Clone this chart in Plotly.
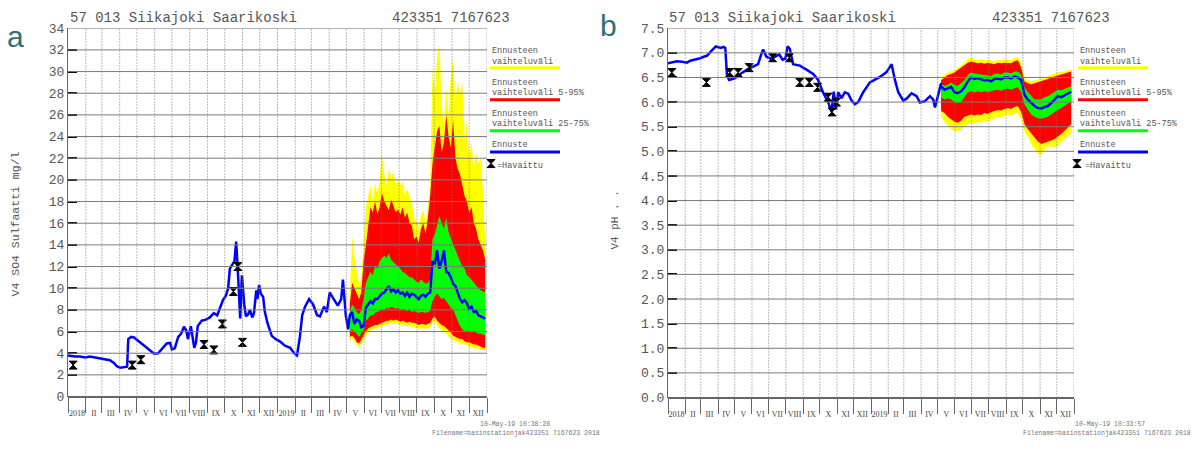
import pandas as pd
import plotly.graph_objects as go

W, H = 1200, 450
START = pd.Timestamp("2018-01-01")

# ---------------- Sulfate (SO4, mg/l) ----------------
# simulated history: days since 2018-01-01 and value
so4_hist_day = [0, 12, 21, 30, 38, 47, 56, 64, 73, 80, 85, 91, 98, 103, 105, 110, 115, 125, 136, 143,
                150, 157, 165, 172, 178, 181, 186, 192, 197, 202, 206, 209, 214, 218, 220, 223, 226, 233,
                240, 247, 254, 260, 265, 270, 275, 279, 282, 286, 290, 293, 294, 296, 300, 303, 307, 310,
                314, 317, 321, 324, 328, 330, 333, 336, 340, 343, 348, 355, 362, 369, 378, 387, 394, 399,
                404, 408, 413, 420, 427, 434, 439, 446, 451, 456, 463, 470, 476, 479, 484, 488]
so4_hist_val = [3.8, 3.7, 3.7, 3.6, 3.7, 3.6, 3.5, 3.45, 3.35, 3.1, 2.8, 2.65, 2.75, 2.75, 5.3, 5.5, 5.45,
                5.0, 4.5, 4.2, 3.95, 4.0, 4.5, 4.9, 4.95, 4.35, 4.45, 5.5, 5.8, 6.45, 6.1, 5.3, 6.5, 5.2,
                4.5, 5.0, 6.5, 7.0, 7.1, 7.3, 7.7, 7.5, 8.2, 8.9, 9.3, 10.0, 11.8, 12.2, 12.5, 14.3, 13.0,
                11.5, 7.2, 11.2, 8.5, 7.4, 7.6, 8.0, 7.3, 7.7, 9.8, 9.0, 10.3, 9.5, 9.2, 7.8, 6.7, 5.6,
                5.3, 5.1, 4.7, 4.5, 4.0, 3.8, 5.5, 7.5, 8.3, 9.0, 8.5, 7.5, 7.4, 8.3, 7.8, 9.6, 9.0, 8.4,
                9.0, 10.8, 7.5, 6.2]

# forecast (every 4 days from 2019-05-07)
so4_fc_start, so4_fc_step = "2019-05-07", "4D"
so4_median = [7.5, 7.8, 6.7, 7.1, 7.0, 6.4, 6.5,
              8.2, 8.5, 8.8, 8.6, 9.0, 9.0, 9.3, 9.5,
              9.6, 9.9, 10.2, 9.7, 9.9, 9.6, 9.8, 9.5, 9.6, 9.3, 9.6, 9.2, 9.5, 9.4,
              9.2, 9.0, 9.3, 9.4, 9.2, 9.5, 9.6,
              12.5, 12.2, 13.5, 11.8, 12.5, 13.5, 11.5, 11.4, 11.0, 10.4,
              10.2, 9.6, 9.0, 8.7, 8.9, 8.6, 8.1, 8.3, 7.8, 7.9, 7.5, 7.4, 7.3, 7.2]
so4_max = [9.5, 14.8, 13.0, 11.5, 10.4, 10.8, 14.0,
           17.5, 18.5, 19.5, 18.0, 19.8, 18.6, 20.0, 22.4,
           20.5, 19.5, 21.0, 20.2, 20.8, 19.6, 20.0, 19.5, 19.8, 18.6, 19.2, 18.5, 17.8, 16.5,
           16.2, 15.5, 16.8, 17.2, 16.0, 17.5, 19.5,
           30.4, 28.0, 31.5, 32.5, 27.0, 25.0, 28.5, 26.0, 29.5, 31.5,
           27.0, 29.0, 28.0, 29.0, 24.0, 25.5, 22.0, 23.5, 21.0, 22.5, 21.5, 22.0, 19.0, 14.0]
so4_p95 = [8.5, 10.5, 10.0, 9.5, 9.0, 9.6, 12.5,
           14.0, 16.0, 17.5, 17.0, 18.0, 16.8, 17.5, 18.8,
           18.0, 17.6, 17.2, 18.2, 17.5, 17.0, 17.3, 16.8, 17.5, 16.5, 17.0, 16.0, 15.8, 14.5,
           14.8, 14.2, 15.5, 16.0, 15.0, 16.5, 18.5,
           21.5, 23.0, 24.5, 25.0, 22.5, 23.5, 26.0, 24.0, 23.0, 25.5,
           22.0, 21.0, 20.5, 19.5, 18.5, 18.0, 17.0, 17.5, 16.0, 15.5, 14.5, 14.0, 13.5, 12.6]
so4_p75 = [7.8, 8.5, 8.2, 7.8, 7.6, 8.0, 9.0,
           10.5, 11.0, 11.5, 11.2, 12.0, 11.8, 12.5, 12.8,
           13.0, 12.8, 13.2, 12.6, 12.4, 12.2, 12.0, 11.8, 11.5, 11.4, 11.2, 11.0, 11.0, 10.8,
           10.6, 10.5, 10.8, 10.6, 10.4, 10.5, 10.8,
           14.5, 15.0, 15.8, 16.7, 16.0, 15.5, 16.5, 15.2, 14.6, 14.0,
           13.5, 13.0, 12.5, 12.0, 11.8, 11.2, 11.0, 10.8, 10.5, 10.2, 10.0, 9.8, 9.7, 9.6]
so4_p25 = [6.0, 6.2, 6.0, 5.8, 5.5, 5.8, 6.2,
           7.0, 7.2, 7.5, 7.5, 7.7, 7.8, 7.9, 8.0,
           8.0, 8.2, 8.1, 8.3, 8.2, 8.1, 8.2, 8.0, 8.1, 8.0, 7.9, 8.0, 7.8, 7.9,
           7.8, 7.7, 7.8, 7.8, 7.7, 7.8, 7.9,
           8.8, 9.2, 9.5, 9.3, 9.0, 9.1, 8.8, 8.5, 8.2, 8.0,
           7.5, 7.0, 6.5, 6.2, 6.0, 6.1, 6.0, 5.9, 6.0, 5.9, 5.8, 5.8, 5.7, 5.7]
so4_p05 = [5.5, 5.6, 5.4, 5.0, 4.9, 5.2, 5.6,
           6.0, 6.3, 6.4, 6.5, 6.6, 6.6, 6.7, 6.8,
           6.9, 7.0, 7.0, 7.1, 7.0, 7.1, 7.0, 6.9, 7.0, 6.9, 6.8, 6.9, 6.8, 6.8,
           6.7, 6.6, 6.7, 6.7, 6.6, 6.7, 6.8,
           7.2, 7.4, 7.0, 6.8, 6.6, 6.5, 6.3, 6.1, 5.9, 5.6,
           5.5, 5.4, 5.3, 5.3, 5.1, 5.0, 5.0, 4.9, 4.8, 4.8, 4.7, 4.6, 4.5, 4.5]
so4_min = [5.2, 5.3, 5.1, 4.7, 4.6, 4.9, 5.3,
           5.6, 5.9, 6.1, 6.2, 6.3, 6.3, 6.4, 6.5,
           6.6, 6.6, 6.7, 6.8, 6.7, 6.8, 6.7, 6.6, 6.6, 6.5, 6.5, 6.5, 6.4, 6.4,
           6.3, 6.2, 6.3, 6.3, 6.2, 6.3, 6.4,
           6.8, 6.9, 6.6, 6.3, 6.1, 6.0, 5.8, 5.6, 5.4, 5.2,
           5.1, 5.0, 4.9, 4.9, 4.8, 4.7, 4.6, 4.6, 4.5, 4.4, 4.4, 4.3, 4.3, 4.3]

so4_obs_dates = ["2018-01-10", "2018-04-23", "2018-05-08", "2018-08-26", "2018-09-12",
                 "2018-09-27", "2018-10-16", "2018-10-24", "2018-11-01"]
so4_obs_vals = [2.9, 2.9, 3.4, 4.8, 4.3, 6.7, 9.7, 12.0, 5.0]

# ---------------- pH ----------------
ph_hist_day = [0, 8, 16, 25, 34, 40, 50, 58, 64, 70, 78, 86, 95, 100, 103, 106, 110, 120, 130, 142,
               153, 162, 167, 171, 177, 186, 195, 200, 206, 211, 215, 219, 225, 237, 249, 261, 270,
               279, 288, 294, 298, 302, 306, 312, 318, 324, 330, 336, 342, 351, 363, 381, 393, 402,
               408, 414, 423, 429, 438, 447, 453, 462, 471, 477, 480, 486, 491]
ph_hist_val = [6.79, 6.81, 6.83, 6.82, 6.80, 6.84, 6.86, 6.89, 6.92, 6.94, 7.04, 7.13, 7.10, 7.12,
               7.10, 6.55, 6.45, 6.48, 6.57, 6.66, 6.72, 6.77, 6.95, 7.07, 6.92, 6.88, 6.94, 6.97,
               6.86, 6.88, 7.13, 7.08, 6.77, 6.74, 6.66, 6.57, 6.45, 6.19, 6.00, 5.80, 6.21, 5.85,
               6.20, 6.08, 6.20, 6.17, 6.03, 5.96, 6.00, 6.20, 6.40, 6.51, 6.61, 6.77, 6.45, 6.20,
               6.03, 6.07, 6.18, 6.12, 5.99, 6.02, 6.12, 6.05, 5.89, 6.18, 6.38]

# forecast (every 6 days from 2019-05-07)
ph_fc_start, ph_fc_step = "2019-05-07", "6D"
ph_median = [6.32, 6.25, 6.28, 6.31, 6.20, 6.18, 6.22, 6.30, 6.42, 6.50, 6.47, 6.49, 6.46, 6.44,
             6.45, 6.42, 6.47, 6.48, 6.46, 6.50, 6.50, 6.48, 6.52, 6.50, 6.45, 6.15, 6.05, 5.98,
             5.92, 5.88, 5.87, 5.90, 5.92, 5.98, 6.05, 6.12, 6.10, 6.14, 6.18, 6.21]
ph_max = [6.50, 6.55, 6.60, 6.62, 6.64, 6.70, 6.75, 6.80, 6.88, 6.90, 6.86, 6.85, 6.87, 6.84, 6.86,
          6.85, 6.83, 6.86, 6.84, 6.87, 6.86, 6.85, 6.90, 6.92, 6.80, 6.50, 6.45, 6.42, 6.44, 6.45,
          6.48, 6.50, 6.52, 6.55, 6.58, 6.60, 6.62, 6.62, 6.65, 6.66]
ph_p95 = [6.44, 6.50, 6.55, 6.57, 6.60, 6.65, 6.70, 6.75, 6.80, 6.82, 6.80, 6.79, 6.80, 6.78, 6.80,
          6.79, 6.77, 6.80, 6.79, 6.80, 6.80, 6.79, 6.83, 6.85, 6.70, 6.42, 6.38, 6.36, 6.38, 6.40,
          6.42, 6.45, 6.47, 6.50, 6.52, 6.55, 6.57, 6.58, 6.60, 6.62]
ph_p75 = [6.38, 6.33, 6.35, 6.40, 6.35, 6.33, 6.38, 6.45, 6.55, 6.60, 6.58, 6.57, 6.56, 6.55, 6.55,
          6.53, 6.57, 6.58, 6.56, 6.60, 6.60, 6.58, 6.62, 6.62, 6.55, 6.30, 6.20, 6.12, 6.05, 6.05,
          6.06, 6.10, 6.12, 6.16, 6.20, 6.25, 6.24, 6.27, 6.30, 6.32]
ph_p25 = [6.10, 6.05, 6.08, 6.05, 6.00, 5.98, 6.00, 6.10, 6.20, 6.22, 6.20, 6.22, 6.20, 6.22, 6.20,
          6.22, 6.24, 6.25, 6.23, 6.26, 6.27, 6.25, 6.28, 6.30, 6.20, 5.95, 5.85, 5.75, 5.70, 5.67,
          5.66, 5.68, 5.70, 5.75, 5.80, 5.85, 5.88, 5.92, 5.97, 6.00]
ph_p05 = [5.82, 5.78, 5.70, 5.65, 5.60, 5.58, 5.62, 5.70, 5.72, 5.75, 5.73, 5.75, 5.74, 5.78, 5.76,
          5.80, 5.82, 5.84, 5.83, 5.86, 5.88, 5.86, 5.90, 5.92, 5.80, 5.55, 5.45, 5.35, 5.28, 5.20,
          5.15, 5.18, 5.20, 5.22, 5.25, 5.30, 5.35, 5.40, 5.48, 5.55]
ph_min = [5.70, 5.62, 5.52, 5.45, 5.42, 5.40, 5.45, 5.50, 5.55, 5.58, 5.55, 5.60, 5.58, 5.62, 5.60,
          5.65, 5.67, 5.70, 5.68, 5.72, 5.74, 5.72, 5.76, 5.78, 5.65, 5.40, 5.30, 5.15, 5.05, 4.95,
          4.92, 5.05, 5.10, 5.10, 5.08, 5.12, 5.20, 5.25, 5.30, 5.38]

ph_obs_dates = ["2018-01-08", "2018-03-11", "2018-04-22", "2018-05-07", "2018-05-27", "2018-07-08",
                "2018-08-07", "2018-08-26", "2018-09-12", "2018-09-27", "2018-10-16", "2018-10-23",
                "2018-10-31"]
ph_obs_vals = [6.6, 6.4, 6.6, 6.6, 6.7, 6.9, 6.9, 6.4, 6.4, 6.3, 6.1, 5.8, 6.0]

# ---------------- axis labelling ----------------
month_labels = ["2018", "II", "III", "IV", "V", "VI", "VII", "VIII", "IX", "X", "XI", "XII",
                "2019", "II", "III", "IV", "V", "VI", "VII", "VIII", "IX", "X", "XI", "XII"]
so4_ticks = list(range(0, 35, 2))
ph_ticks = [0.0, 0.5, 1.0, 1.5, 2.0, 2.5, 3.0, 3.5, 4.0, 4.5, 5.0, 5.5, 6.0, 6.5, 7.0, 7.5]

station = "57 013 Siikajoki Saarikoski"
coords = "423351 7167623"

# ---------------- helpers ----------------
MONO = "Liberation Mono"
GREY = "#555555"
GRID = "#7a7a7a"


def px(x):
    return x / W


def py(y):
    return 1 - y / H


def to_dates(days):
    return [START + pd.Timedelta(days=d) for d in days]


month_starts = list(pd.date_range("2018-01-01", "2020-01-01", freq="MS"))
month_mids = [a + (b - a) / 2 for a, b in zip(month_starts[:-1], month_starts[1:])]

fig = go.Figure()


def add_panel(xa, ya, hist_day, hist_val, fc_start, fc_step, med, lo_all, hi_all,
              p05, p95, p25, p75, obs_d, obs_v):
    fc_dates = list(pd.date_range(fc_start, periods=len(med), freq=fc_step))
    for lo, hi, col in [(lo_all, hi_all, "#ffff00"), (p05, p95, "#ff0000"), (p25, p75, "#00ff00")]:
        fig.add_trace(go.Scatter(
            x=fc_dates + fc_dates[::-1], y=list(hi) + list(lo)[::-1],
            fill="toself", fillcolor=col, mode="lines", line=dict(width=0, color=col),
            xaxis=xa, yaxis=ya, hoverinfo="skip", showlegend=False))
    fig.add_trace(go.Scatter(
        x=to_dates(hist_day) + fc_dates, y=list(hist_val) + list(med), mode="lines",
        line=dict(color="#0000ff", width=2.5), xaxis=xa, yaxis=ya, showlegend=False))
    fig.add_trace(go.Scatter(
        x=obs_d, y=obs_v, mode="markers",
        marker=dict(symbol="hourglass", size=8, color="black", line=dict(width=1, color="black")),
        xaxis=xa, yaxis=ya, showlegend=False))


add_panel("x", "y", so4_hist_day, so4_hist_val, so4_fc_start, so4_fc_step, so4_median,
          so4_min, so4_max, so4_p05, so4_p95, so4_p25, so4_p75, so4_obs_dates, so4_obs_vals)
add_panel("x2", "y2", ph_hist_day, ph_hist_val, ph_fc_start, ph_fc_step, ph_median,
          ph_min, ph_max, ph_p05, ph_p95, ph_p25, ph_p75, ph_obs_dates, ph_obs_vals)

# legend marker glyphs on a full-page pixel canvas
fig.add_trace(go.Scatter(x=[491, 1077], y=[163, 163], mode="markers",
                         marker=dict(symbol="hourglass", size=8, color="black",
                                     line=dict(width=1, color="black")),
                         xaxis="x3", yaxis="y3", showlegend=False, hoverinfo="skip"))


def xaxis_cfg(left, right):
    return dict(
        domain=[px(left), px(right)], type="date", range=["2018-01-01", "2020-01-01"],
        tickmode="array", tickvals=month_mids, ticktext=month_labels, tickangle=0,
        ticks="outside", ticklen=9, tickcolor="rgba(0,0,0,0)",
        tickfont=dict(family="Liberation Serif", size=8, color="#444"),
        showgrid=False, zeroline=False, showline=False, fixedrange=True,
        minor=dict(tickmode="array", tickvals=month_starts, ticks="outside", ticklen=15,
                   tickcolor="#666", tickwidth=1, showgrid=False),
    )


def yaxis_cfg(bottom, top, rng, ticks, fmt, anchor):
    return dict(
        domain=[py(bottom), py(top)], range=rng, tickmode="array", tickvals=ticks,
        tickformat=fmt, ticks="inside", ticklen=9, tickwidth=2, tickcolor="black",
        tickfont=dict(family=MONO, size=13, color=GREY),
        showgrid=False, zeroline=True, zerolinecolor="#666", zerolinewidth=2,
        showline=True, linecolor="#666", linewidth=1, anchor=anchor, fixedrange=True,
    )


shapes = []
annotations = []


def grid_shapes(xa, ya, levels):
    for d in month_starts[1:]:
        shapes.append(dict(type="line", xref=xa, yref=f"{ya} domain", x0=d, x1=d, y0=0, y1=1,
                           line=dict(color=GRID, width=1, dash="1px,2px"), layer="above"))
    for v in levels[1:]:
        shapes.append(dict(type="line", xref=f"{xa} domain", yref=ya, x0=0, x1=1, y0=v, y1=v,
                           line=dict(color=GRID, width=1), layer="above"))


grid_shapes("x", "y", so4_ticks)
grid_shapes("x2", "y2", ph_ticks)


def text(x, y, s, size, anchor="left", color=GREY, family=MONO, angle=0):
    annotations.append(dict(x=px(x), y=py(y), xref="paper", yref="paper", text=s,
                            showarrow=False, xanchor=anchor, yanchor="middle", textangle=angle,
                            font=dict(family=family, size=size, color=color)))


def legend(x0):
    items = [
        (("Ennusteen", 47), ("vaihteluväli", 58), 64, "#ffff00"),
        (("Ennusteen", 80), ("vaihteluväli 5-95%", 90), 97, "#ff0000"),
        (("Ennusteen", 112), ("vaihteluväli 25-75%", 122), 129, "#00ff00"),
    ]
    for (t1, y1), (t2, y2), yl, col in items:
        text(x0, y1, t1, 8.5)
        text(x0, y2, t2, 8.5)
        shapes.append(dict(type="line", xref="paper", yref="paper", x0=px(x0), x1=px(x0 + 70),
                           y0=py(yl), y1=py(yl), line=dict(color=col, width=3)))
    text(x0, 144, "Ennuste", 8.5)
    shapes.append(dict(type="line", xref="paper", yref="paper", x0=px(x0), x1=px(x0 + 70),
                       y0=py(151), y1=py(151), line=dict(color="#0000ff", width=3)))
    text(x0 + 5, 165, "=Havaittu", 8.5)


# panel a
text(68, 12, station, 14)
text(390, 12, coords, 14)
text(15, 32, "a", 30, anchor="center", color="#2e7078", family="Liberation Sans")
text(15, 226, "V4 SO4 Sulfaatti mg/l", 11.5, anchor="center", angle=-90)
legend(490)
text(515, 433, "10-May-19 10:38:28", 6.5, anchor="center", color="#777")
text(516, 442, "Filename=basinstationjak423351 7167623 2018", 6.5, anchor="center", color="#777")

# panel b
text(667, 12, station, 14)
text(990, 12, coords, 14)
text(609, 20, "b", 30, anchor="center", color="#2e7078", family="Liberation Sans")
text(615, 222, "V4 pH . .", 11, anchor="center", angle=-90)
legend(1078)
text(1110, 433, "10-May-19 10:33:57", 6.5, anchor="center", color="#777")
text(1107, 442, "Filename=basinstationjak423351 7167623 2018", 6.5, anchor="center", color="#777")

fig.update_layout(
    width=W, height=H, autosize=False,
    margin=dict(l=0, r=0, t=0, b=0),
    paper_bgcolor="white", plot_bgcolor="rgba(0,0,0,0)",
    showlegend=False, hovermode=False,
    xaxis=xaxis_cfg(68, 487),
    yaxis=yaxis_cfg(404, 23, [0, 34], so4_ticks, "d", "x"),
    xaxis2=xaxis_cfg(668, 1074) | dict(anchor="y2"),
    yaxis2=yaxis_cfg(405, 23, [0, 7.5], ph_ticks, ".1f", "x2"),
    xaxis3=dict(domain=[0, 1], range=[0, W], visible=False, anchor="y3", fixedrange=True),
    yaxis3=dict(domain=[0, 1], range=[H, 0], visible=False, anchor="x3", fixedrange=True),
    shapes=shapes, annotations=annotations,
)

fig.write_html("out.html", config={"displayModeBar": False})
